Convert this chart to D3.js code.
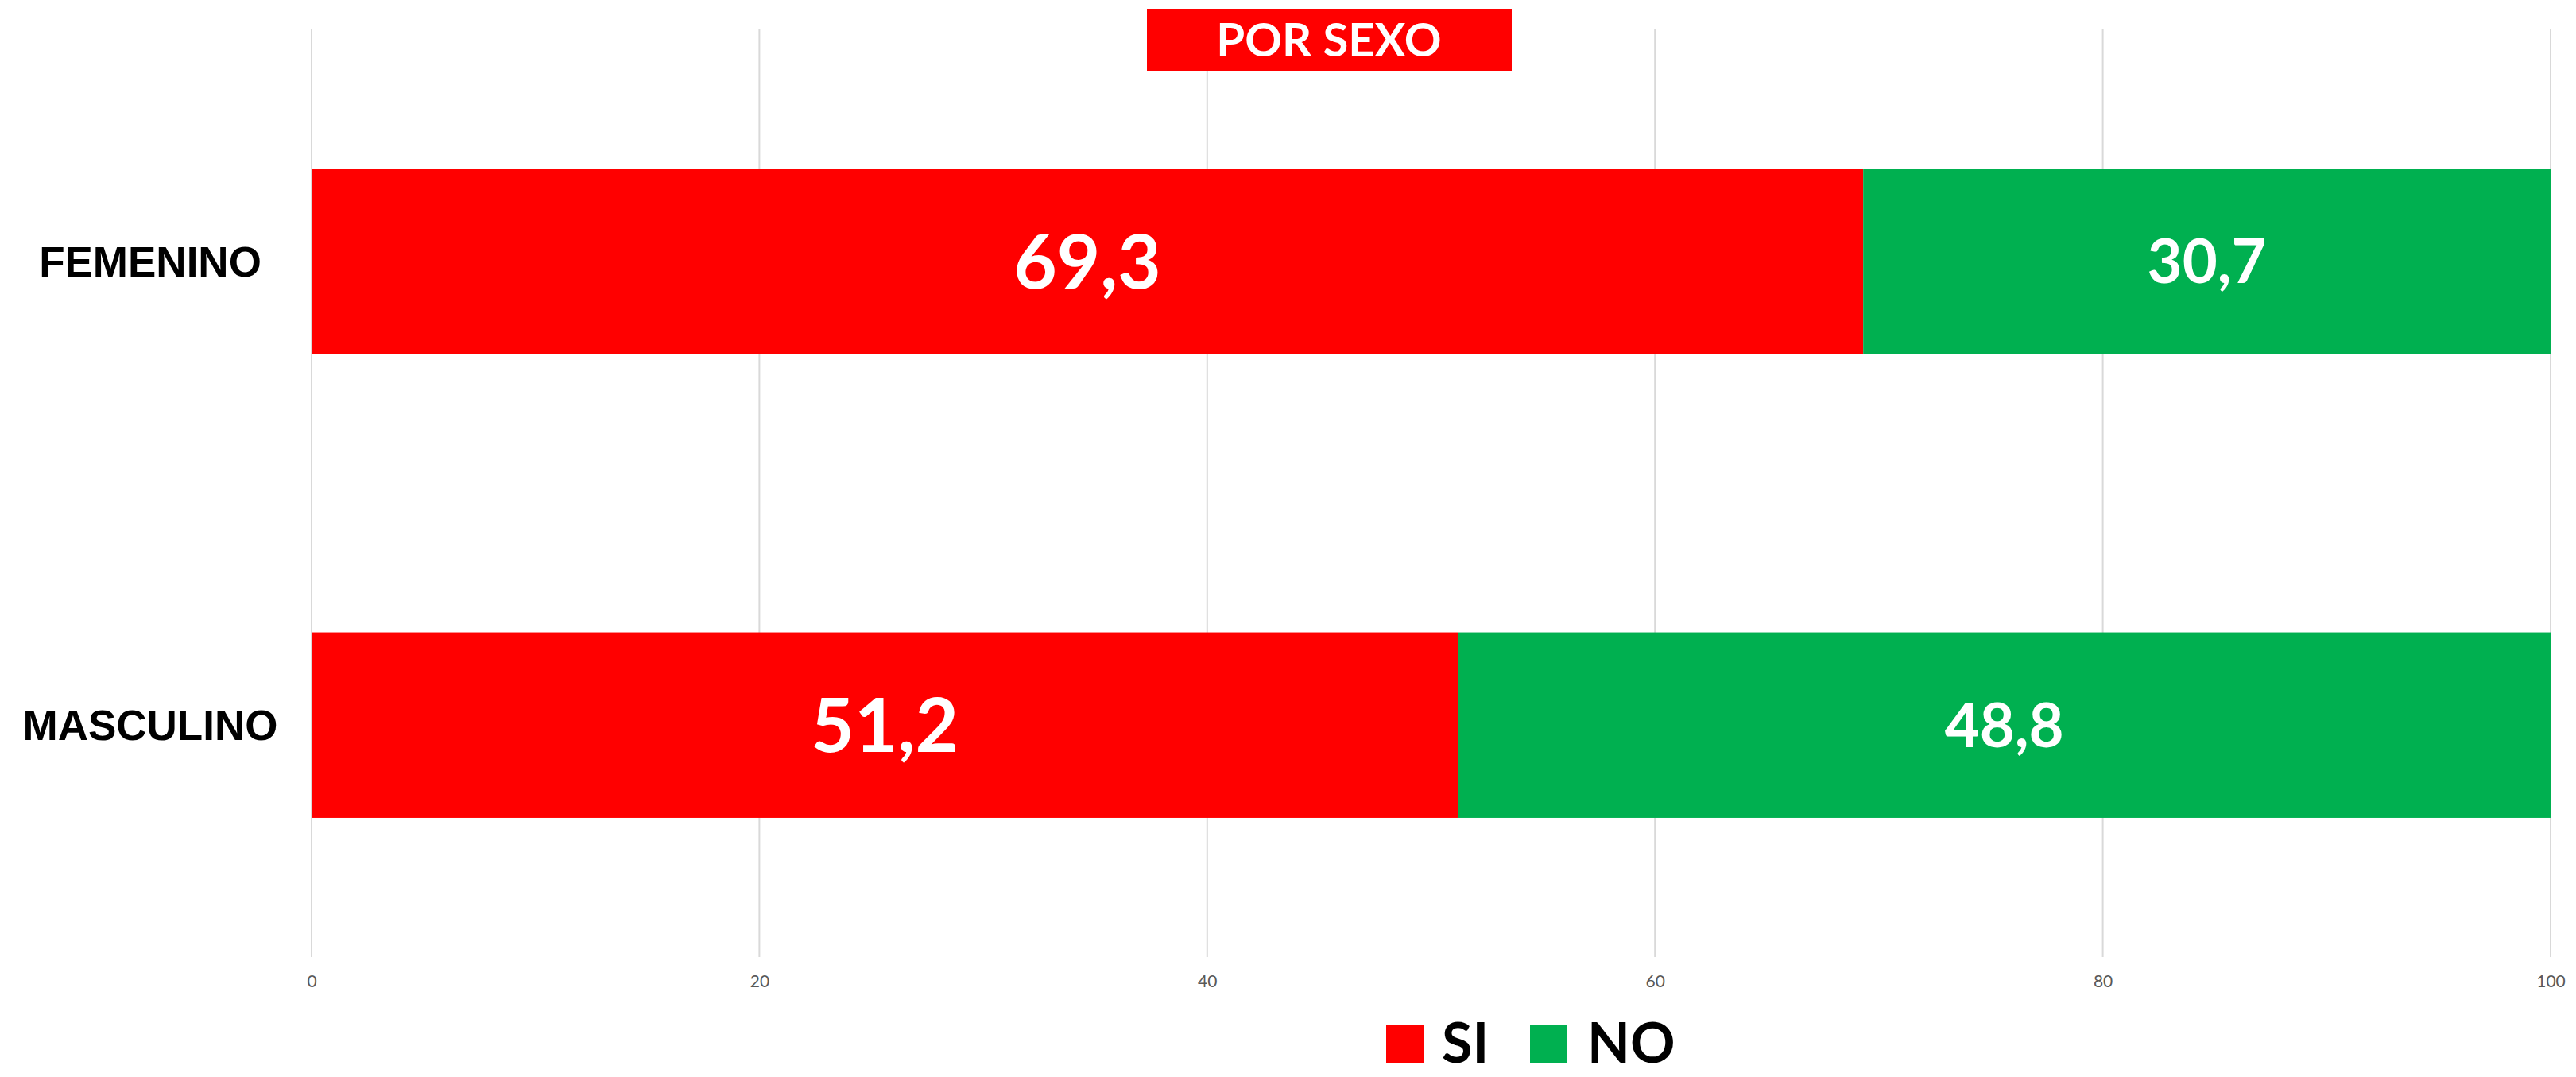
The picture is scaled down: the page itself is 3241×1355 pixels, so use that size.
<!DOCTYPE html>
<html>
<head>
<meta charset="utf-8">
<script src="https://cdn.jsdelivr.net/npm/d3@7"></script>
<style>
  html, body { margin: 0; padding: 0; background: #ffffff; }
  svg { display: block; }
</style>
</head>
<body>
<svg id="chart" width="3241" height="1355"></svg>
<script>
// ---- data ----
const categories = ["FEMENINO", "MASCULINO"];
const siValues = [69.3, 51.2];
const noValues = [30.7, 48.8];
const siLabels = ["69,3", "51,2"];
const noLabels = ["30,7", "48,8"];
const tickValues = [0, 20, 40, 60, 80, 100];
const seriesNames = ["SI", "NO"];
const titleText = "POR SEXO";

(function () {
// ---- layout ----
const plotLeft = 392, plotRight = 3209, plotTop = 37, plotBottom = 1204;
const RED = "#FF0000", GREEN = "#00B050";

const svg = d3.select("#chart");

const x = d3.scaleLinear().domain([0, 100]).range([plotLeft, plotRight]);
const y = d3.scaleBand().domain(categories).range([plotTop, plotBottom])
  .paddingInner(0.6).paddingOuter(0.3);

// gridlines
svg.append("g").selectAll("line").data(tickValues).join("line")
  .attr("x1", d => x(d)).attr("x2", d => x(d))
  .attr("y1", plotTop).attr("y2", plotBottom)
  .attr("stroke", "#d9d9d9").attr("stroke-width", 2);

// axis tick labels
const axis = d3.axisBottom(x).tickValues(tickValues).tickSize(0).tickPadding(0)
  .tickFormat(d3.format("d"));
const ag = svg.append("g").attr("transform", `translate(0, ${plotBottom + 23})`).call(axis);
ag.select(".domain").remove();
ag.selectAll("text")
  .attr("dy", "0.71em")
  .style("font-family", "Lato, 'Open Sans', sans-serif")
  .style("font-size", "21px")
  .attr("fill", "#595959");

// stacked data
const rows = categories.map((c, i) => ({ cat: c, si: siValues[i], no: noValues[i], siL: siLabels[i], noL: noLabels[i] }));

// SI bars
svg.append("g").selectAll("rect").data(rows).join("rect")
  .attr("x", d => x(0)).attr("y", d => y(d.cat))
  .attr("width", d => x(d.si) - x(0)).attr("height", y.bandwidth())
  .attr("fill", RED);
// NO bars
svg.append("g").selectAll("rect").data(rows).join("rect")
  .attr("x", d => x(d.si)).attr("y", d => y(d.cat))
  .attr("width", d => x(d.si + d.no) - x(d.si)).attr("height", y.bandwidth())
  .attr("fill", GREEN);

// value labels
const lblFont = "Lato, 'Open Sans', sans-serif";
svg.append("g").selectAll("text").data(rows).join("text")
  .attr("x", d => (x(0) + x(d.si)) / 2)
  .attr("y", d => y(d.cat) + y.bandwidth() / 2)
  .attr("dy", "0.36em")
  .attr("text-anchor", "middle")
  .style("font-family", lblFont).style("font-weight", "bold").style("font-size", "94px")
  .attr("fill", "#ffffff")
  .text(d => d.siL);
svg.append("g").selectAll("text").data(rows).join("text")
  .attr("x", d => (x(d.si) + x(d.si + d.no)) / 2)
  .attr("y", d => y(d.cat) + y.bandwidth() / 2)
  .attr("dy", "0.36em")
  .attr("text-anchor", "middle")
  .style("font-family", lblFont).style("font-weight", "bold").style("font-size", "76px")
  .attr("fill", "#ffffff")
  .text(d => d.noL);

// category labels
svg.append("g").selectAll("text").data(categories).join("text")
  .attr("x", 189)
  .attr("y", d => y(d) + y.bandwidth() / 2)
  .attr("dy", "0.36em")
  .attr("text-anchor", "middle")
  .style("font-family", "'Liberation Sans', Arial, sans-serif")
  .style("font-weight", "bold").style("font-size", "53px")
  .attr("fill", "#000000")
  .text(d => d);

// title box
svg.append("rect").attr("x", 1443).attr("y", 11).attr("width", 459).attr("height", 78).attr("fill", RED);
svg.append("text").attr("x", 1672).attr("y", 50).attr("dy", "0.36em")
  .attr("text-anchor", "middle")
  .style("font-family", lblFont).style("font-weight", "bold").style("font-size", "58px")
  .attr("fill", "#ffffff").text(titleText);

// legend
const legend = [
  { name: seriesNames[0], color: RED, sx: 1744, tx: 1814 },
  { name: seriesNames[1], color: GREEN, sx: 1925, tx: 1997 }
];
const lg = svg.append("g");
lg.selectAll("rect").data(legend).join("rect")
  .attr("x", d => d.sx).attr("y", 1290).attr("width", 47).attr("height", 47)
  .attr("fill", d => d.color);
lg.selectAll("text").data(legend).join("text")
  .attr("x", d => d.tx).attr("y", 1337)
  .style("font-family", lblFont).style("font-weight", "bold").style("font-size", "70px")
  .attr("fill", "#000000").text(d => d.name);
})();
</script>
</body>
</html>
